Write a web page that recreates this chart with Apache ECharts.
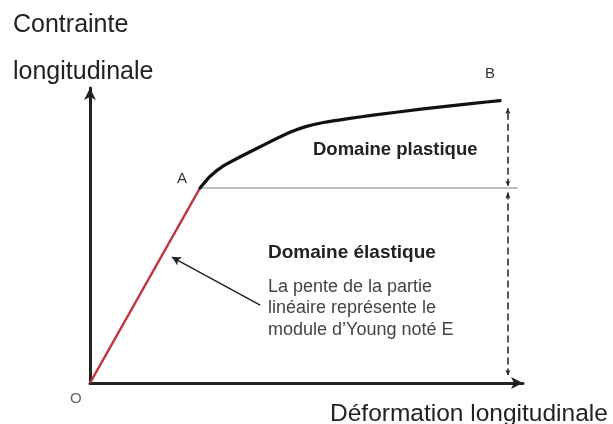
<!DOCTYPE html>
<html><head><meta charset="utf-8">
<script src="https://cdn.jsdelivr.net/npm/echarts@6/dist/echarts.min.js"></script>
<style>html,body{margin:0;padding:0;background:#fff}#c{width:613px;height:424px}</style>
</head><body><div id="c"></div>
<script>
// Elastic (linear) part O -> A
var elasticX = [0, 25.4];
var elasticY = [0, 66.1];
// Plastic part A -> B
var plasticX = [25.4, 27.7, 30.8, 34.6, 38.5, 42.3, 46.2, 50.0, 53.9, 60.0, 65.4, 76.9, 88.5, 94.7];
var plasticY = [66.1, 70.0, 73.6, 76.6, 79.5, 82.3, 85.0, 87.0, 88.3, 89.7, 90.8, 92.9, 94.8, 95.7];
// Yield level (A) and reference position of the dashed bracket
var yieldLevel = 66.1;
var yieldLineEndX = 98.8;
var bracketX = 96.5;
var bracketTop = 93.2;
var bracketBottom = 2.7;
// Annotation arrow (tail -> head)
var noteArrow = [[39.3, 26.4], [18.9, 42.7]];

var font = 'Liberation Sans, Arial, Helvetica, sans-serif';
function zip(a, b) { return a.map(function (v, i) { return [v, b[i]]; }); }
function txt(x, y, s, f, fill, extra) {
  var st = { x: x, y: y, text: s, font: f, fill: fill, verticalAlign: 'middle', align: 'left' };
  if (extra) for (var k in extra) st[k] = extra[k];
  return { type: 'text', style: st, z: 10 };
}

var chart = echarts.init(document.getElementById('c'));
chart.setOption({
  animation: false,
  backgroundColor: '#fff',
  grid: { left: 90, right: 90, top: 88, bottom: 41 },
  xAxis: {
    type: 'value', min: 0, max: 100,
    axisLine: { lineStyle: { color: '#222', width: 3 }, symbol: ['none', 'arrow'], symbolSize: [9, 12] },
    axisTick: { show: false }, axisLabel: { show: false }, splitLine: { show: false }
  },
  yAxis: {
    type: 'value', min: 0, max: 100,
    axisLine: { show: true, lineStyle: { color: '#222', width: 3 }, symbol: ['none', 'arrow'], symbolSize: [9, 12] },
    axisTick: { show: false }, axisLabel: { show: false }, splitLine: { show: false }
  },
  series: [
    {
      type: 'line', data: zip(elasticX, elasticY), showSymbol: false,
      lineStyle: { color: '#c0343c', width: 2.5 }, z: 3
    },
    {
      type: 'line', data: zip(plasticX, plasticY), smooth: 0.15, showSymbol: false,
      lineStyle: { color: '#111', width: 3.2, cap: 'round', join: 'round' }, z: 3
    },
    {
      type: 'line', data: [[elasticX[1], yieldLevel], [yieldLineEndX, yieldLevel]], showSymbol: false,
      lineStyle: { color: '#aaa', width: 1.5 }, z: 2
    },
    {
      type: 'line', data: [], silent: true,
      markLine: {
        silent: true, animation: false,
        label: { show: false },
        data: [
          [{ coord: [bracketX, yieldLevel + 0.8], symbol: 'arrow', symbolSize: [4, 5] },
           { coord: [bracketX, bracketTop], symbol: 'arrow', symbolSize: [4, 6] }],
          [{ coord: [bracketX, yieldLevel - 1.5], symbol: 'arrow', symbolSize: [4, 6] },
           { coord: [bracketX, bracketBottom], symbol: 'arrow', symbolSize: [4, 5] }]
        ],
        lineStyle: { color: '#222', width: 1.5, type: [7, 4] }
      }
    },
    {
      type: 'line', data: [], silent: true,
      markLine: {
        silent: true, animation: false,
        label: { show: false },
        data: [[{ coord: noteArrow[0], symbol: 'none' }, { coord: noteArrow[1], symbol: 'arrow', symbolSize: [7, 9] }]],
        lineStyle: { color: '#222', width: 1.5, type: 'solid' }
      }
    }
  ],
  graphic: [
    txt(13, 25, 'Contrainte', '25px ' + font, '#222'),
    txt(13, 72, 'longitudinale', '25px ' + font, '#222'),
    txt(485, 74, 'B', '15px ' + font, '#333'),
    txt(177, 178.5, 'A', '15px ' + font, '#333'),
    txt(70, 399, 'O', '15px ' + font, '#666'),
    txt(313, 150, 'Domaine plastique', 'bold 18.5px ' + font, '#222'),
    txt(268, 253, 'Domaine élastique', 'bold 19px ' + font, '#222'),
    txt(268, 308.5, 'La pente de la partie\nlinéaire représente le\nmodule d\u2019Young noté E', '18px ' + font, '#444', { lineHeight: 21.7 }),
    txt(330, 414, 'Déformation longitudinale', '24.5px ' + font, '#222')
  ]
});
</script></body></html>
